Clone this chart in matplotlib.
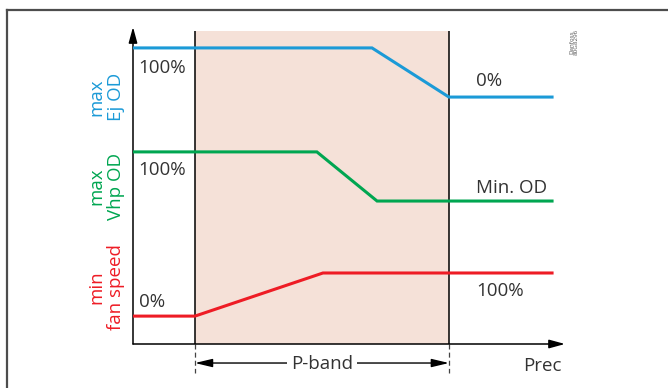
import matplotlib
matplotlib.use("Agg")
import matplotlib.pyplot as plt
from matplotlib.lines import Line2D

plt.rcParams['font.family'] = ['Open Sans', 'DejaVu Sans']

# ---- data (x in P-band units: band from 0 to 1; y in % of axis height) ----
band_start = 0.0
band_end = 1.0
band_top = 98.7

x_ej = [-0.244, 0.697, 1.0, 1.406]
y_ej = [93.4, 93.4, 77.9, 77.9]

x_vhp = [-0.244, 0.480, 0.717, 1.406]
y_vhp = [60.6, 60.6, 45.1, 45.1]

x_fan = [-0.244, 0.0, 0.504, 1.406]
y_fan = [8.8, 8.8, 22.4, 22.4]

left_labels = ["100%", "100%", "0%"]
left_label_y = [87.1, 54.9, 13.4]
right_labels = ["0%", "Min. OD", "100%"]
right_label_y = [83.1, 49.2, 16.6]

series_names = ["max\nEj OD", "max\nVhp OD", "min\nfan speed"]
series_name_y = [77.9, 49.8, 18.0]

col_ej = "#1b9ad7"
col_vhp = "#00a651"
col_fan = "#ee1c25"
colors = [col_ej, col_vhp, col_fan]
band_color = "#f5e1d8"
text_col = "#333333"

xmin, xmax = -0.244, 1.457
ymin, ymax = 0.0, 100.0

fig = plt.figure(figsize=(6.68, 3.88), dpi=100)
W, H = 668, 388
ax = fig.add_axes([133 / W, (H - 344) / H, (565 - 133) / W, (344 - 27) / H])
ax.set_xlim(xmin, xmax)
ax.set_ylim(ymin, ymax)
ax.axis('off')

# outer frame (top and left edges)
fig.add_artist(Line2D([7 / W, 1.0], [1 - 10 / H, 1 - 10 / H], color="#4d4d4d", lw=1.6,
                      transform=fig.transFigure))
fig.add_artist(Line2D([7 / W, 7 / W], [0.0, 1 - 10 / H], color="#4d4d4d", lw=1.6,
                      transform=fig.transFigure))

# P-band shading
ax.fill_between([band_start, band_end], 0, band_top, color=band_color, lw=0, zorder=0)
for xb in (band_start, band_end):
    ax.plot([xb, xb], [0, band_top], color="black", lw=1.1, zorder=2, solid_capstyle='butt')
    ax.plot([xb, xb], [0, -9.2], color="#444444", lw=0.9, ls=(0, (4, 2.5)),
            clip_on=False, zorder=2)

# axes arrows
arrow_kw = dict(arrowstyle='-|>,head_length=0.95,head_width=0.26', mutation_scale=10,
                color='black', lw=1.1, shrinkA=0, shrinkB=0)
ax.annotate('', xy=(xmin, ymax), xytext=(xmin, ymin), arrowprops=arrow_kw,
            annotation_clip=False)
ax.annotate('', xy=(xmax, ymin), xytext=(xmin, ymin), arrowprops=arrow_kw,
            annotation_clip=False)

# series lines
for xs, ys, c in zip([x_ej, x_vhp, x_fan], [y_ej, y_vhp, y_fan], colors):
    ax.plot(xs, ys, color=c, lw=2.2, zorder=3, solid_joinstyle='miter')

# value labels
fs = 13.5
for lab, y in zip(left_labels, left_label_y):
    ax.text(-0.222, y, lab, fontsize=fs, color=text_col, ha='left', va='center')
for lab, y in zip(right_labels, right_label_y):
    ax.text(1.108, y, lab, fontsize=fs, color=text_col, ha='left', va='center')

# series names (rotated)
for lab, y, c in zip(series_names, series_name_y, colors):
    ax.text(-0.350, y, lab, fontsize=13.5, color=c, rotation=90, ha='center', va='center',
            multialignment='center', linespacing=1.1, clip_on=False)

# P-band dimension arrow
ax.annotate('', xy=(band_end, -6.0), xytext=(band_start, -6.0),
            arrowprops=dict(arrowstyle='<|-|>,head_length=1.05,head_width=0.25',
                            mutation_scale=10, color='black', lw=1.0, shrinkA=0, shrinkB=0),
            annotation_clip=False)
ax.text(0.5, -6.3, "P-band", fontsize=fs, color=text_col, ha='center', va='center',
        bbox=dict(facecolor='white', edgecolor='none', pad=3), clip_on=False, zorder=5)

ax.text(1.366, -7.0, "Prec", fontsize=fs, color=text_col, ha='center', va='center',
        clip_on=False)

# document code
ax.text(1.492, 95.3, "Danfoss\n80G8296", fontsize=4.5, color="#555555", rotation=90,
        ha='center', va='center', linespacing=1.0, clip_on=False)

fig.savefig("out.png", dpi=100)
